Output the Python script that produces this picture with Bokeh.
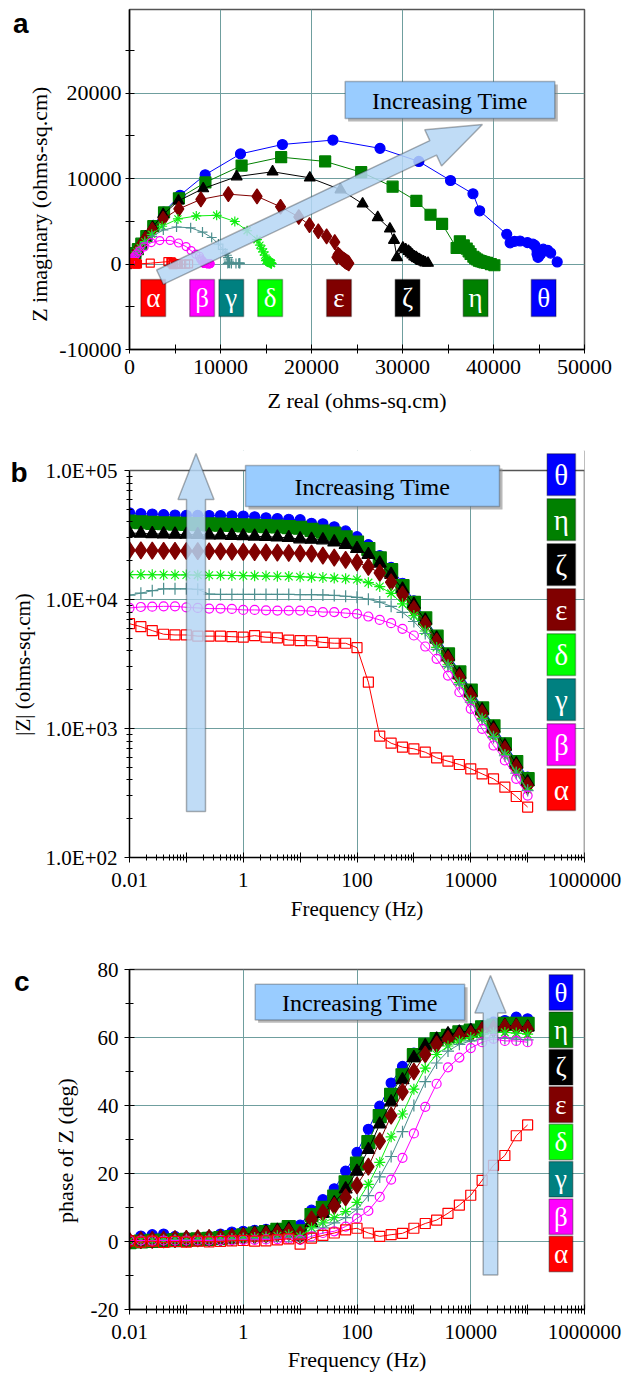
import numpy as np
from bokeh.plotting import figure
from bokeh.layouts import column
from bokeh.models import (BoxAnnotation, PolyAnnotation, Label, FixedTicker, Span,
                          CustomJSTickFormatter, Range1d, LinearAxis, LogAxis)
from bokeh.embed import file_html
from bokeh.resources import INLINE

# ---------------- data ----------------
freq_hz = [0.01, 0.01585, 0.02512, 0.03981, 0.0631, 0.1, 0.1585, 0.2512, 0.3981, 0.631,
           1.0, 1.585, 2.512, 3.981, 6.31, 10.0, 15.85, 25.12, 39.81, 63.1,
           100.0, 158.5, 251.2, 398.1, 631.0, 1000.0, 1585.0, 2512.0, 3981.0, 6310.0,
           10000.0, 15850.0, 25120.0, 39810.0, 63100.0, 100000.0]

greek_letters = ["α", "β", "γ", "δ", "ε", "ζ", "η", "θ"]

zmag_alpha = [6490, 6160, 5740, 5380, 5310, 5310, 5200, 5200, 5200, 5150,
              5100, 5250, 5100, 5050, 4850, 4800, 4790, 4650, 4580, 4580,
              4230, 2285, 873, 769, 717, 696, 655, 593, 558, 526,
              487, 445, 407, 351, 297, 246]
zmag_beta = [8600, 8750, 8800, 8850, 8850, 8700, 8600, 8500, 8500, 8450,
             8300, 8300, 8250, 8200, 8200, 8200, 8130, 7990, 7990, 7840,
             7740, 7380, 6950, 6550, 5930, 5260, 4320, 3470, 2570, 1910,
             1420, 994, 738, 565, 407, 302]
zmag_gamma = [10800, 11200, 11700, 12100, 12100, 12100, 12000, 11000, 10950, 10950,
              10950, 10950, 10950, 10950, 10950, 10900, 10900, 10850, 10750, 10600,
              10400, 10050, 9550, 8850, 7950, 6750, 5450, 4100, 3020, 2200,
              1600, 1170, 850, 615, 450, 330]
zmag_delta = [15600, 15600, 15550, 15550, 15500, 15500, 15450, 15400, 15400, 15350,
              15300, 15250, 15200, 15150, 15100, 15000, 14900, 14800, 14650, 14500,
              14300, 13500, 12600, 11150, 9250, 7500, 5700, 4250, 3120, 2270,
              1650, 1200, 870, 630, 460, 335]
zmag_epsilon = [24100, 24000, 23900, 23850, 23800, 23750, 23700, 23650, 23600, 23500,
                23400, 23300, 23200, 23100, 22950, 22800, 22700, 21900, 21100, 20300,
                19400, 17900, 16100, 13600, 10900, 8430, 6450, 4720, 3430, 2490,
                1800, 1310, 948, 688, 499, 361]
zmag_zeta = [32800, 32500, 32300, 32100, 32000, 31900, 31800, 31600, 31500, 31300,
             31100, 30900, 30700, 30400, 30100, 29400, 29200, 28910, 27820, 26570,
             24770, 22240, 19080, 15600, 11990, 9150, 6890, 5000, 3620, 2630,
             1910, 1390, 1010, 730, 530, 385]
zmag_eta = [40100, 39700, 39300, 39000, 38800, 38600, 38400, 38200, 38000, 37800,
            37500, 37300, 37100, 36800, 36400, 36000, 34670, 33580, 32380, 30300,
            27640, 24630, 20840, 16870, 12690, 9420, 7140, 5150, 3750, 2720,
            1970, 1430, 1040, 755, 550, 405]
zmag_theta = [47000, 46300, 46000, 45500, 45200, 45000, 44900, 44800, 44800, 44600,
              44400, 43800, 43000, 42400, 41900, 41600, 38980, 38630, 36610, 33990,
              30680, 26650, 21870, 17750, 13360, 9780, 7150, 5250, 3800, 2770,
              2010, 1460, 1060, 770, 560, 420]

phase_alpha = [0.2, -0.2, 0.1, -0.3, 0.0, -0.2, 0.1, -0.1, 0.0, 0.2,
               0.3, 0.1, 0.2, 0.5, 0.8, -0.8, 1.0, 1.8, 2.5, 3.4,
               3.9, 2.5, 1.5, 2.0, 2.4, 3.9, 5.3, 6.3, 8.3, 10.7,
               13.6, 18.0, 22.4, 25.3, 31.1, 34.3]
phase_beta = [0.3, 0.3, 0.2, 0.3, 0.3, 0.3, 0.3, 0.3, 0.4, 0.4,
              0.5, 0.5, 0.6, 0.7, 0.8, 0.5, 1.5, 2.5, 3.0, 4.4,
              6.8, 9.0, 13.1, 18.2, 24.6, 31.8, 39.6, 46.4, 51.2, 54.1,
              56.9, 58.6, 59.6, 59.0, 59.0, 58.6]
phase_gamma = [0.3, 0.3, 0.3, 0.4, 0.4, 0.5, 0.5, 0.5, 0.6, 0.6,
               0.7, 0.8, 0.9, 1.0, 1.2, 1.0, 2.5, 4.0, 5.5, 7.0,
               9.5, 13.5, 19.0, 25.0, 32.3, 40.0, 47.0, 52.5, 56.0, 58.0,
               59.0, 59.5, 60.0, 59.8, 59.5, 59.3]
phase_delta = [0.2, 0.3, 0.3, 0.4, 0.5, 0.5, 0.6, 0.7, 0.8, 0.9,
               1.0, 1.2, 1.4, 1.7, 2.0, 1.5, 4.0, 5.5, 7.0, 8.8,
               11.5, 16.8, 23.3, 30.8, 37.5, 44.8, 51.0, 55.0, 57.5, 59.0,
               60.0, 61.0, 61.5, 61.5, 61.3, 61.0]
phase_epsilon = [0.2, 0.4, 0.5, 0.6, 0.7, 0.8, 0.9, 1.0, 1.1, 1.3,
                 1.5, 1.8, 2.0, 2.4, 2.8, 2.0, 6.5, 8.5, 10.5, 13.0,
                 16.5, 22.0, 29.5, 37.0, 44.0, 50.0, 55.0, 58.0, 59.5, 60.5,
                 61.0, 62.0, 62.5, 63.0, 63.0, 62.5]
phase_zeta = [0.2, 0.3, 0.5, 0.6, 0.7, 0.9, 1.0, 1.2, 1.4, 1.6,
              2.0, 2.4, 2.8, 3.2, 3.6, 1.5, 5.5, 8.2, 11.3, 15.4,
              20.6, 27.0, 34.5, 41.0, 47.5, 54.0, 57.5, 59.5, 61.0, 61.5,
              62.0, 62.5, 63.0, 63.5, 63.5, 63.0]
phase_eta = [-0.2, 0.0, 0.2, 0.3, 0.4, 0.5, 0.6, 0.8, 1.0, 1.3,
             1.8, 2.3, 2.8, 3.4, 4.2, 3.0, 7.8, 9.9, 13.2, 17.4,
             22.9, 29.2, 36.9, 43.1, 48.9, 54.8, 57.9, 59.5, 60.5, 61.5,
             62.0, 63.0, 63.5, 64.0, 64.0, 64.0]
phase_theta = [0.3, 1.6, 2.0, 2.2, 1.5, 1.2, 1.0, 1.5, 2.2, 2.8,
               3.0, 3.3, 3.6, 3.6, 3.4, 4.8, 9.2, 12.3, 15.5, 20.7,
               26.2, 33.0, 39.8, 46.6, 51.5, 55.4, 58.3, 60.0, 61.0, 62.0,
               62.5, 63.5, 64.5, 65.0, 66.0, 65.5]

# ---------------- styles ----------------
FONT = "'Liberation Serif', 'Times New Roman', serif"
SANS = "'Liberation Sans', Arial, sans-serif"
GRID = "#6f9e9e"
BORDER = "#555555"
BOXFILL = "#99ccff"
ARROWFILL = "#b5d6f5"
NBSP = "\u00a0"

# (zmag, phase, line/marker colour, marker, filled, size_a, size_bc)
series = [
    (zmag_theta, phase_theta, "#0000ff", "circle", True, 10, 10),
    (zmag_eta, phase_eta, "#008000", "square", True, 11, 13),
    (zmag_zeta, phase_zeta, "#000000", "triangle", True, 11, 13),
    (zmag_epsilon, phase_epsilon, "#800000", "diamond", True, 15, 17),
    (zmag_delta, phase_delta, "#11ee11", "asterisk", False, 10, 11),
    (zmag_gamma, phase_gamma, "#4d8f8f", "cross", False, 10, 12),
    (zmag_beta, phase_beta, "#ff00ff", "circle", False, 8, 9),
    (zmag_alpha, phase_alpha, "#ff0000", "square", False, 8, 10),
]
legend_colors = ["#ff0000", "#ff00ff", "#008080", "#00ff00", "#800000", "#000000", "#008000", "#0000ff"]


def lin(p, p0, p1, v0, v1):
    return v0 + (p - p0) / (p1 - p0) * (v1 - v0)


class Frame:
    """Maps page pixels to data for one panel (frame edges L,R,T,B in page px)."""
    def __init__(self, L, R, T, B, x0, x1, y0, y1, xlog=False, ylog=False):
        self.L, self.R, self.T, self.B = L, R, T, B
        self.x0, self.x1, self.y0, self.y1 = x0, x1, y0, y1
        self.xlog, self.ylog = xlog, ylog

    def x(self, px):
        if self.xlog:
            return 10 ** lin(px, self.L, self.R, np.log10(self.x0), np.log10(self.x1))
        return lin(px, self.L, self.R, self.x0, self.x1)

    def y(self, py):
        if self.ylog:
            return 10 ** lin(py, self.B, self.T, np.log10(self.y0), np.log10(self.y1))
        return lin(py, self.B, self.T, self.y0, self.y1)


def make_fig(fr, top_page, height, xlog, ylog, frame_top=None, y_top=None):
    ft = fr.T if frame_top is None else frame_top
    yt = fr.y1 if y_top is None else y_top
    p = figure(width=634, height=height,
               x_axis_type="log" if xlog else "linear",
               y_axis_type="log" if ylog else "linear",
               x_range=Range1d(fr.x0, fr.x1), y_range=Range1d(fr.y0, yt),
               output_backend="svg", toolbar_location=None,
               min_border_left=fr.L, min_border_right=634 - fr.R,
               min_border_top=ft - top_page, min_border_bottom=top_page + height - fr.B)
    p.background_fill_color = "white"
    p.border_fill_color = "white"
    p.outline_line_color = BORDER
    p.outline_line_width = 1.5
    for ax in p.axis:
        ax.axis_line_color = "black"
        ax.axis_line_width = 1.5
        ax.major_tick_line_color = "black"
        ax.minor_tick_line_color = "black"
        ax.major_label_text_font = FONT
        ax.major_label_text_color = "black"
        ax.axis_label_text_font = FONT
        ax.axis_label_text_font_style = "normal"
        ax.axis_label_text_color = "black"
    p.grid.grid_line_color = GRID
    p.grid.grid_line_width = 1
    return p


def arrow(fr, tail, tip, hs, hh, hl):
    tx, ty = tail
    px, py = tip
    dx, dy = px - tx, py - ty
    n = np.hypot(dx, dy)
    ux, uy = dx / n, dy / n
    nx, ny = -uy, ux
    hx, hy = px - hl * ux, py - hl * uy
    pts = [(tx + hs * nx, ty + hs * ny), (hx + hs * nx, hy + hs * ny),
           (hx + hh * nx, hy + hh * ny), (px, py),
           (hx - hh * nx, hy - hh * ny), (hx - hs * nx, hy - hs * ny),
           (tx - hs * nx, ty - hs * ny)]
    return PolyAnnotation(xs=[fr.x(a) for a, b in pts], ys=[fr.y(b) for a, b in pts],
                          fill_color=ARROWFILL, fill_alpha=0.85,
                          line_color="black", line_width=1.5)


def time_box(p, fr, l, t, r, b):
    p.add_layout(BoxAnnotation(left=fr.x(l + 3), right=fr.x(r + 3), top=fr.y(t + 3), bottom=fr.y(b + 3),
                               fill_color="#8a8a8a", fill_alpha=0.6, line_color=None))
    p.add_layout(BoxAnnotation(left=fr.x(l), right=fr.x(r), top=fr.y(t), bottom=fr.y(b),
                               fill_color=BOXFILL, fill_alpha=1.0, line_color="#222222", line_width=1.5))
    p.add_layout(Label(x=fr.x((l + r) / 2), y=fr.y((t + b) / 2 + 1), text="Increasing Time",
                       text_font=FONT, text_font_size="24px", text_color="black",
                       text_align="center", text_baseline="middle"))


def legend_box(p, fr, l, t, r, b, color, letter, fs):
    p.add_layout(BoxAnnotation(left=fr.x(l), right=fr.x(r), top=fr.y(t), bottom=fr.y(b),
                               fill_color=color, fill_alpha=1.0, line_color="black", line_width=1.5))
    p.add_layout(Label(x=fr.x((l + r) / 2), y=fr.y((t + b) / 2), text=letter,
                       text_font=FONT, text_font_size=fs, text_color="white",
                       text_align="center", text_baseline="middle"))


def panel_letter(p, fr, py, s, standoff, ylog):
    """Panel letter drawn as the single tick label of an invisible outer left axis."""
    ax = LogAxis() if ylog else LinearAxis()
    ax.ticker = FixedTicker(ticks=[fr.y(py)])
    ax.formatter = CustomJSTickFormatter(code='return "%s";' % s)
    ax.axis_line_color = None
    ax.major_tick_line_color = None
    ax.minor_tick_line_color = None
    ax.major_tick_in = 0
    ax.major_tick_out = 0
    ax.minor_tick_in = 0
    ax.minor_tick_out = 0
    ax.major_label_standoff = standoff
    ax.major_label_text_font = SANS
    ax.major_label_text_font_style = "bold"
    ax.major_label_text_font_size = "28px"
    ax.major_label_text_color = "black"
    p.add_layout(ax, "left")


def decade_labels():
    return CustomJSTickFormatter(code="""
        const e = Math.round(Math.log10(tick));
        if (e % 2 !== 0) { return ""; }
        return e < 0 ? tick.toFixed(-e) : String(Math.round(tick));
    """)


# ======================= panel a =======================
FA = Frame(125, 585, 9, 349, 0, 50000, -10000, 29800)
pa = make_fig(FA, 0, 430, False, False)
pa.xaxis.ticker = FixedTicker(ticks=[0, 10000, 20000, 30000, 40000, 50000],
                              minor_ticks=[5000, 15000, 25000, 35000, 45000])
pa.yaxis.ticker = FixedTicker(ticks=[-10000, 0, 10000, 20000],
                              minor_ticks=[-5000, 5000, 15000, 25000])
for ax in pa.axis:
    ax.formatter = CustomJSTickFormatter(code="return tick.toFixed(0);")
    ax.major_label_text_font_size = "22px"
    ax.axis_label_text_font_size = "22px"
    ax.major_tick_in = 5
    ax.major_tick_out = 4
    ax.minor_tick_in = 5
    ax.minor_tick_out = 4
pa.xaxis.axis_label = "Z real (ohms-sq.cm)"
# trailing no-break spaces nudge the centred label down, as in the original
pa.yaxis.axis_label = "Z imaginary (ohms-sq.cm)" + NBSP * 9
pa.xaxis.major_label_standoff = 6
pa.xaxis.axis_label_standoff = 11
pa.yaxis.major_label_standoff = 4
pa.yaxis.axis_label_standoff = 4

for zm, ph, col, mk, filled, sa, sb in series:
    zm = np.array(zm, dtype=float)
    rad = np.radians(np.array(ph, dtype=float))
    zr = zm * np.cos(rad)
    zi = zm * np.sin(rad)
    pa.line(zr, zi, line_color=col, line_width=1)
    pa.scatter(zr, zi, marker=mk, size=sa, line_color=col,
               fill_color=col if filled else None, line_width=1.2)

a_leg_centers = [149, 198.4, 227.9, 267.2, 336.8, 406.1, 474.9, 543.7]
for cx, colr, g in zip(a_leg_centers, legend_colors, greek_letters):
    legend_box(pa, FA, cx - 12.5, 279, cx + 12.5, 316, colr, g, "27px")
time_box(pa, FA, 343, 81, 555, 118)
pa.add_layout(arrow(FA, (155.8, 276.7), (481.8, 124), 8, 20, 55))
panel_letter(pa, FA, 22.5, "a", -4, False)

# ======================= panel b =======================
decades = [0.01, 0.1, 1, 10, 100, 1000, 10000, 100000, 1000000]
minor_x = [m * d for d in decades[:-1] for m in range(2, 10)]
FB = Frame(129, 584, 470, 857, 0.01, 1e6, 100, 1e5, xlog=True, ylog=True)
B_TOP = 450  # frame extended above 1e5 so the legend / arrow are not clipped
pb = make_fig(FB, 430, 500, True, True, frame_top=B_TOP, y_top=FB.y(B_TOP))
pb.outline_line_color = None
pb.xaxis.ticker = FixedTicker(ticks=decades, minor_ticks=minor_x)
pb.xaxis.formatter = decade_labels()
pb.yaxis.ticker = FixedTicker(ticks=[100, 1000, 10000, 100000],
                              minor_ticks=[m * d for d in [100, 1000, 10000] for m in range(2, 10)])
pb.yaxis.bounds = (100, 100000)
pb.yaxis.formatter = CustomJSTickFormatter(code="""
    const e = Math.round(Math.log10(tick));
    return "1.0E+" + (e < 10 ? "0" : "") + e;
""")
pb.xgrid.ticker = FixedTicker(ticks=[1, 100, 10000])
pb.ygrid.ticker = FixedTicker(ticks=[1000, 10000])
for ax in pb.axis:
    ax.major_label_text_font_size = "21px"
    ax.axis_label_text_font_size = "21px"
    ax.major_tick_in = 5
    ax.major_tick_out = 5
    ax.minor_tick_in = 3
    ax.minor_tick_out = 3
pb.xaxis.axis_label = "Frequency (Hz)"
pb.yaxis.axis_label = "|Z| (ohms-sq.cm)" + NBSP * 4
pb.xaxis.major_label_standoff = 10
pb.xaxis.axis_label_standoff = 7
pb.yaxis.major_label_standoff = 7
pb.yaxis.axis_label_standoff = 8

for zm, ph, col, mk, filled, sa, sb in series:
    pb.line(freq_hz, zm, line_color=col, line_width=1)
    pb.scatter(freq_hz, zm, marker=mk, size=sb, line_color=col,
               fill_color=col if filled else None, line_width=1.2)

# frame border (right + top) and mask above 1e5
pb.add_layout(Span(location=1e6, dimension="height", line_color=BORDER, line_width=1.5))
pb.add_layout(BoxAnnotation(bottom=1e5, fill_color="white", fill_alpha=1.0, line_color=None))
pb.add_layout(Span(location=1e5, dimension="width", line_color=BORDER, line_width=1.5))

time_box(pb, FB, 245, 465, 499, 506)
pb.add_layout(arrow(FB, (195.5, 811), (195.5, 453), 9.5, 18, 46))
for i, (colr, g) in enumerate(zip(legend_colors[::-1], greek_letters[::-1])):
    t = 453.3 + 45 * i
    legend_box(pb, FB, 546.6, t, 575, t + 41.7, colr, g, "29px")
panel_letter(pb, FB, 472, "b", -20, True)

# ======================= panel c =======================
FC = Frame(124, 591, 969, 1313, 0.01, 1e6, -20, 80, xlog=True, ylog=False)
pc = make_fig(FC, 930, 444, True, False)
pc.xaxis.ticker = FixedTicker(ticks=decades, minor_ticks=minor_x)
pc.xaxis.formatter = decade_labels()
pc.yaxis.ticker = FixedTicker(ticks=[-20, 0, 20, 40, 60, 80], minor_ticks=[-10, 10, 30, 50, 70])
pc.yaxis.formatter = CustomJSTickFormatter(code="return tick.toFixed(0);")
pc.xgrid.ticker = FixedTicker(ticks=[1, 100, 10000])
pc.ygrid.ticker = FixedTicker(ticks=[0, 20, 40, 60])
for ax in pc.axis:
    ax.major_label_text_font_size = "21px"
    ax.axis_label_text_font_size = "22px"
    ax.major_tick_in = 5
    ax.major_tick_out = 5
    ax.minor_tick_in = 4
    ax.minor_tick_out = 4
pc.xaxis.axis_label = "Frequency (Hz)"
pc.yaxis.axis_label = "phase of Z (deg)" + NBSP * 4
pc.xaxis.major_label_standoff = 10
pc.xaxis.axis_label_standoff = 5
pc.yaxis.major_label_standoff = 6
pc.yaxis.axis_label_standoff = 10

for zm, ph, col, mk, filled, sa, sb in series:
    pc.line(freq_hz, ph, line_color=col, line_width=1)
    pc.scatter(freq_hz, ph, marker=mk, size=sb, line_color=col,
               fill_color=col if filled else None, line_width=1.2)

time_box(pc, FC, 253, 984, 468, 1020)
pc.add_layout(arrow(FC, (494.5, 1278), (494.5, 975), 7.5, 16, 38))
for i, (colr, g) in enumerate(zip(legend_colors[::-1], greek_letters[::-1])):
    t = 974.3 + 37.8 * i
    legend_box(pc, FC, 554.7, t, 579, t + 36, colr, g, "27px")
panel_letter(pc, FC, 981, "c", 20, False)

layout = column(pa, pb, pc)
open("out.html", "w").write(file_html(layout, INLINE))
